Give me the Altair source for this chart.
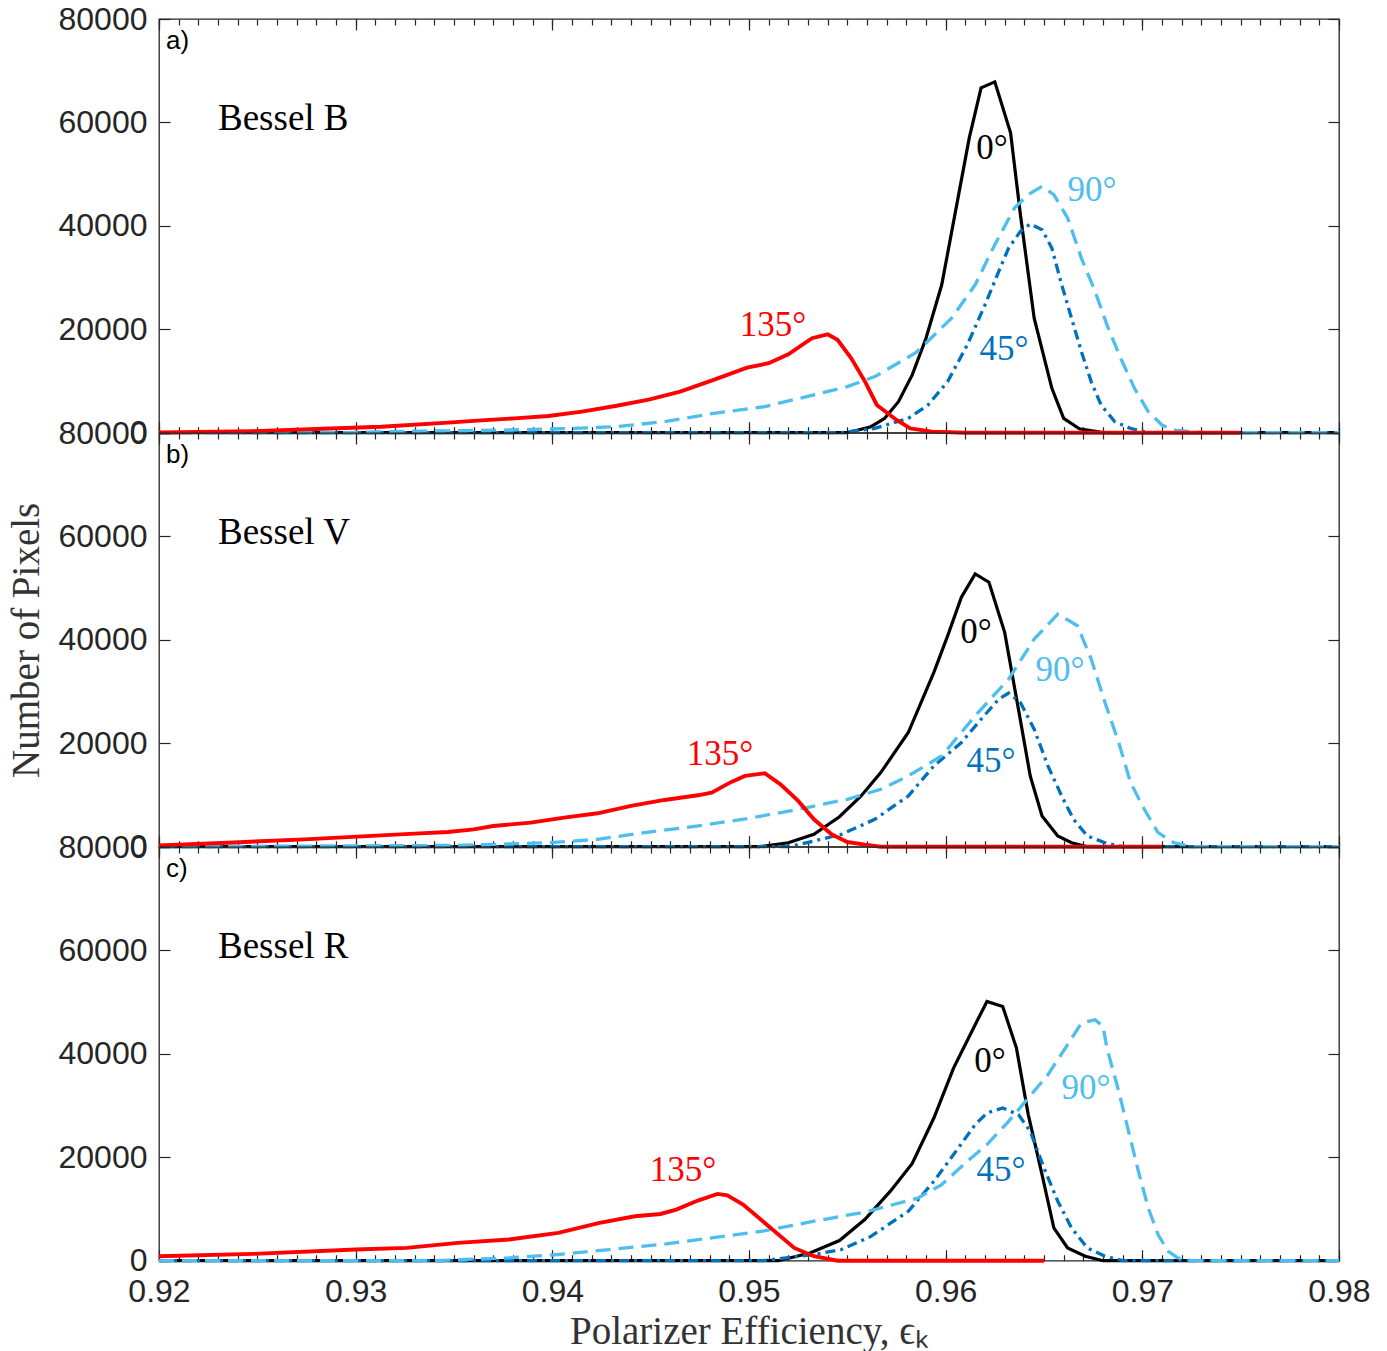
import altair as alt
import pandas as pd

# Histogram outlines of polarizer efficiency: bin centre (x) vs number of pixels (y),
# one panel per Bessel filter and one curve per polarizer angle.

# ---- Bessel B -----------------------------------------------------------
B_0_x = [0.92, 0.955, 0.9562, 0.9569, 0.9576, 0.9583, 0.959, 0.9598, 0.9605, 0.9612,
         0.9618, 0.9625, 0.9633, 0.9638, 0.9645, 0.9654, 0.966, 0.9668, 0.968, 0.98]
B_0_y = [0, 0, 1160, 2770, 6000, 11180, 18270, 28600, 42800, 57000,
         66700, 67850, 58000, 42200, 22140, 8580, 2770, 770, 0, 0]
B_45_x = [0.92, 0.9547, 0.9564, 0.9581, 0.9591, 0.9601, 0.9611, 0.962, 0.9627, 0.9632,
          0.9638, 0.9643, 0.9649, 0.9654, 0.9659, 0.9664, 0.9669, 0.9674, 0.9679, 0.9686,
          0.9694, 0.9703, 0.98]
B_45_y = [0, 0, 830, 2770, 5360, 9880, 16990, 24730, 31190, 35700,
          38930, 40350, 39260, 35700, 28600, 22140, 15690, 9880, 5360, 2130,
          830, 0, 0]
B_90_x = [0.92, 0.9295, 0.9313, 0.9378, 0.9411, 0.9432, 0.9457, 0.9482, 0.9508, 0.9533,
          0.955, 0.9564, 0.9585, 0.9603, 0.9615, 0.9625, 0.9635, 0.9642, 0.9649, 0.9655,
          0.9662, 0.9669, 0.9676, 0.9682, 0.9689, 0.9696, 0.9703, 0.971, 0.9716, 0.973, 0.98]
B_90_y = [0, 0, 200, 520, 830, 1160, 2130, 3740, 5040, 7300,
          8910, 10850, 15500, 22140, 28600, 36360, 43450, 46040, 47650, 46040,
          41520, 33760, 27310, 20860, 14390, 8580, 4070, 1490, 520, 0, 0]
B_135_x = [0.92, 0.9248, 0.9287, 0.9313, 0.9347, 0.9364, 0.9381, 0.9398, 0.9415, 0.9432,
           0.9449, 0.9465, 0.9482, 0.9499, 0.951, 0.952, 0.9532, 0.954, 0.9545, 0.9552,
           0.9559, 0.9565, 0.9575, 0.9582, 0.9593, 0.961, 0.975]
B_135_y = [50, 300, 800, 1160, 1940, 2390, 2770, 3230, 4070, 5170,
           6390, 7940, 10200, 12590, 13430, 15170, 18270, 19040, 17960, 14390,
           9880, 5360, 2460, 830, 200, 0, 0]

# ---- Bessel V -----------------------------------------------------------
V_0_x = [0.92, 0.9505, 0.952, 0.9533, 0.9546, 0.9557, 0.9567, 0.9581, 0.9594, 0.9601,
         0.9608, 0.9615, 0.9622, 0.963, 0.9637, 0.9643, 0.9649, 0.9657, 0.9664, 0.9672, 0.98]
V_0_y = [0, 0, 770, 2390, 5800, 9810, 14330, 22080, 33700, 40780,
         48230, 52750, 51140, 41450, 26600, 13690, 5940, 2070, 770, 0, 0]
V_45_x = [0.92, 0.952, 0.9533, 0.9547, 0.9564, 0.9581, 0.9594, 0.9608, 0.9618, 0.9627,
          0.9632, 0.9638, 0.9645, 0.9652, 0.9659, 0.9665, 0.9672, 0.9681, 0.969, 0.98]
V_45_y = [0, 0, 1100, 2390, 5300, 9810, 15620, 20140, 24650, 28530,
          29700, 27890, 22720, 15620, 9810, 5300, 2070, 770, 0, 0]
V_90_x = [0.92, 0.9352, 0.9398, 0.9423, 0.9449, 0.9474, 0.9499, 0.9525, 0.955, 0.9567,
          0.9581, 0.9598, 0.9615, 0.9632, 0.9645, 0.9657, 0.9667, 0.9674, 0.9681, 0.9688,
          0.9694, 0.9701, 0.9708, 0.9716, 0.9725, 0.98]
V_90_y = [0, 250, 770, 1420, 2840, 4010, 5420, 7230, 9170, 11100,
          13690, 17560, 25300, 32400, 40140, 44980, 42730, 36280, 27890, 20140,
          12400, 7230, 2710, 770, 0, 0]
V_135_x = [0.92, 0.9235, 0.9274, 0.9313, 0.933, 0.9347, 0.936, 0.937, 0.9389, 0.9406,
           0.9423, 0.944, 0.9457, 0.9474, 0.9481, 0.9491, 0.9498, 0.9508, 0.9516, 0.9525,
           0.9533, 0.9542, 0.955, 0.9559, 0.9567, 0.971]
V_135_y = [250, 770, 1420, 2190, 2520, 2840, 3360, 4010, 4650, 5620,
           6460, 7880, 9040, 9940, 10460, 12530, 13690, 14200, 12070, 8850,
           5300, 2390, 910, 390, 0, 0]

# ---- Bessel R -----------------------------------------------------------
R_0_x = [0.92, 0.9515, 0.9531, 0.9546, 0.9559, 0.9572, 0.9583, 0.9594, 0.9604, 0.9615,
         0.9621, 0.9629, 0.9636, 0.9642, 0.9649, 0.9655, 0.9662, 0.9671, 0.968, 0.98]
R_0_y = [0, 0, 1500, 3900, 8000, 13500, 18800, 27590, 37250, 45630,
         50130, 49170, 41110, 28250, 16650, 6340, 2470, 870, 0, 0]
R_45_x = [0.92, 0.9507, 0.9533, 0.9547, 0.9562, 0.9581, 0.9594, 0.9604, 0.9615, 0.9621,
          0.9629, 0.9637, 0.9643, 0.965, 0.9657, 0.9664, 0.9672, 0.9681, 0.969, 0.98]
R_45_y = [0, 0, 1200, 2160, 4700, 9560, 15360, 20520, 26310, 28560,
          29520, 28250, 25020, 17930, 11500, 6340, 2470, 870, 0, 0]
R_90_x = [0.92, 0.9339, 0.9378, 0.9403, 0.9429, 0.9455, 0.9481, 0.9507, 0.9533, 0.9559,
          0.9586, 0.9598, 0.9611, 0.9621, 0.9632, 0.9642, 0.9652, 0.9662, 0.9669, 0.9676,
          0.968, 0.9682, 0.9688, 0.9693, 0.9698, 0.9703, 0.9708, 0.9713, 0.9718, 0.9725, 0.98]
R_90_y = [0, 0, 540, 1200, 2160, 3130, 4400, 5700, 7630, 9400,
          12130, 14720, 19220, 22450, 26950, 31450, 35970, 41770, 45940, 46600,
          45310, 41110, 32750, 25020, 17290, 10200, 5060, 1840, 540, 0, 0]
R_135_x = [0.92, 0.9248, 0.93, 0.9326, 0.9352, 0.9378, 0.9403, 0.9424, 0.9442, 0.9455,
           0.9463, 0.9474, 0.9484, 0.9489, 0.9497, 0.951, 0.9523, 0.9533, 0.9545, 0.965]
R_135_y = [870, 1320, 2160, 2470, 3440, 4100, 5370, 7300, 8600, 9040,
           9890, 11630, 12910, 12650, 10850, 6660, 2470, 870, 0, 0]

# ---- axes ---------------------------------------------------------------
X_DOMAIN = [0.92, 0.98]
Y_DOMAIN = [0, 80000]
X_MAJOR = [0.92, 0.93, 0.94, 0.95, 0.96, 0.97, 0.98]
X_MINOR = [round(0.92 + 0.001 * i, 3) for i in range(61)]
Y_TICKS = [0, 20000, 40000, 60000, 80000]

ANGLES = ["0°", "45°", "90°", "135°"]
COLORS = {"0°": "#000000", "45°": "#0072BD", "90°": "#4DBEEE", "135°": "#FF0000"}
DASHES = {"45°": [10, 5, 3, 5], "90°": [15, 8]}
WIDTHS = {"0°": 3.2, "45°": 3.3, "90°": 3.3, "135°": 3.9}

PANELS = [
    {"letter": "a)", "filter": "Bessel B",
     "curves": {"0°": (B_0_x, B_0_y), "45°": (B_45_x, B_45_y),
                "90°": (B_90_x, B_90_y), "135°": (B_135_x, B_135_y)},
     "label_at": {"0°": (0.96236, 55000), "90°": (0.96744, 46900),
                  "45°": (0.96297, 16100), "135°": (0.95122, 20900)}},
    {"letter": "b)", "filter": "Bessel V",
     "curves": {"0°": (V_0_x, V_0_y), "45°": (V_45_x, V_45_y),
                "90°": (V_90_x, V_90_y), "135°": (V_135_x, V_135_y)},
     "label_at": {"0°": (0.96154, 41450), "90°": (0.96581, 34100),
                  "45°": (0.9623, 16650), "135°": (0.94853, 18000)}},
    {"letter": "c)", "filter": "Bessel R",
     "curves": {"0°": (R_0_x, R_0_y), "45°": (R_45_x, R_45_y),
                "90°": (R_90_x, R_90_y), "135°": (R_135_x, R_135_y)},
     "label_at": {"0°": (0.96225, 38700), "90°": (0.96713, 33300),
                  "45°": (0.96281, 17500), "135°": (0.94664, 17500)}},
]

W, H = 1180, 413.7
INK = "#262626"
SERIF = "Liberation Serif"
SANS = "Liberation Sans"


def tick_axis(orient, values, size, offset):
    return alt.Axis(orient=orient, values=values, tickSize=size, offset=offset,
                    labels=False, domain=False, grid=False, ticks=True,
                    tickColor=INK, tickWidth=1.2, title=None)


def build_panel(p, show_x_labels, y_title):
    xs = alt.Scale(domain=X_DOMAIN, nice=False, zero=False)
    ys = alt.Scale(domain=Y_DOMAIN, nice=False, zero=False)

    x_axes = [
        alt.Axis(orient="bottom", values=X_MAJOR, format=".2f", labels=show_x_labels,
                 ticks=False, domain=False, grid=False, labelFlush=False,
                 labelPadding=16, titlePadding=5),
        tick_axis("top", X_MAJOR, 11, -H),
        tick_axis("top", X_MINOR, 6, -H),
        tick_axis("bottom", X_MAJOR, 11, -H),
        tick_axis("bottom", X_MINOR, 6, -H),
    ]
    y_axes = [
        alt.Axis(orient="left", values=Y_TICKS, format="d", ticks=False, domain=False,
                 grid=False, labelFlush=False, labelPadding=12, titlePadding=12),
        tick_axis("right", Y_TICKS, 11, -W),
        tick_axis("left", Y_TICKS, 11, -W),
    ]

    x_title = "Polarizer Efficiency, ϵₖ" if show_x_labels else None

    def enc(i):
        xa = x_axes[i] if i < len(x_axes) else None
        ya = y_axes[i] if i < len(y_axes) else None
        return dict(
            x=alt.X("x:Q", scale=xs, axis=xa, title=x_title if i == 0 else None),
            y=alt.Y("y:Q", scale=ys, axis=ya, title=y_title if i == 0 else None),
        )

    layers = []
    for angle in ANGLES:
        xv, yv = p["curves"][angle]
        df = pd.DataFrame({"x": xv, "y": yv})
        style = dict(color=COLORS[angle], strokeWidth=WIDTHS[angle], strokeCap="butt")
        if angle in DASHES:
            style["strokeDash"] = DASHES[angle]
        layers.append(alt.Chart(df).mark_line(**style))

    lab = pd.DataFrame({
        "x": [p["label_at"][a][0] for a in ANGLES],
        "y": [p["label_at"][a][1] for a in ANGLES],
        "label": ANGLES,
        "color": [COLORS[a] for a in ANGLES],
    })
    layers.append(alt.Chart(lab).mark_text(font=SERIF, fontSize=35, align="center",
                                           baseline="middle"))
    name = pd.DataFrame({"x": [0.923], "y": [60600], "label": [p["filter"]]})
    layers.append(alt.Chart(name).mark_text(font=SERIF, fontSize=37, align="left",
                                            baseline="middle", color="#000000"))
    letter = pd.DataFrame({"x": [0.92036], "y": [75800], "label": [p["letter"]]})
    layers.append(alt.Chart(letter).mark_text(font=SANS, fontSize=26, align="left",
                                              baseline="middle", color="#000000"))

    encoded = []
    for i, layer in enumerate(layers):
        e = enc(i)
        if i == 4:
            e["text"] = "label:N"
            e["color"] = alt.Color("color:N", scale=None)
        elif i > 4:
            e["text"] = "label:N"
        encoded.append(layer.encode(**e))

    return (alt.layer(*encoded)
            .resolve_axis(x="independent", y="independent")
            .properties(width=W, height=H))


panels = [
    build_panel(PANELS[0], False, None),
    build_panel(PANELS[1], False, "Number of Pixels"),
    build_panel(PANELS[2], True, None),
]

chart = (alt.vconcat(*panels, spacing=0, bounds="flush")
         .resolve_scale(x="independent", y="independent")
         .properties(padding={"left": 6, "top": 2, "right": 14, "bottom": 0})
         .configure_view(stroke=INK, strokeWidth=1.3)
         .configure_axis(labelFont=SANS, labelFontSize=32, labelColor=INK,
                         titleFont=SERIF, titleFontSize=39, titleFontWeight="normal",
                         titleColor="#333333"))

chart.save("out.html", embed_options={"renderer": "svg", "actions": False})
